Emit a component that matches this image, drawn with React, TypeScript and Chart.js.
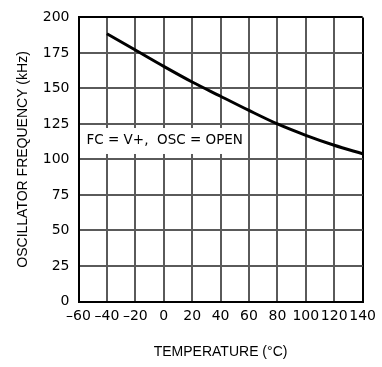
import React, { useEffect, useRef } from "react";
import { Chart, registerables } from "chart.js";

Chart.register(...registerables);

const temperatures = [-40, -20, 0, 20, 40, 60, 80, 100, 120, 140];
const frequencyKHz = [188.5, 177, 165.5, 154.5, 144.5, 134.5, 125, 117, 110, 104];
const xTitle = "TEMPERATURE (°C)";
const yTitle = "OSCILLATOR FREQUENCY (kHz)";
const annotationText = "FC = V+,  OSC = OPEN";

const TITLE_FONT = "'Liberation Sans', Arial, sans-serif";
const TICK_FONT = "'DejaVu Sans', sans-serif";

const annotationPlugin = {
  id: "condLabel",
  afterDraw(chart: any) {
    const { ctx, chartArea, scales } = chart;
    const y = scales.y.getPixelForValue(113);
    ctx.save();
    ctx.font = `13.5px ${TICK_FONT}`;
    const w = ctx.measureText(annotationText).width;
    ctx.fillStyle = "#fff";
    ctx.fillRect(chartArea.left + 4, y - 13, w + 8, 26);
    ctx.fillStyle = "#000";
    ctx.textBaseline = "middle";
    ctx.textAlign = "left";
    ctx.fillText(annotationText, chartArea.left + 8, y);
    ctx.restore();
  },
};

export default function App() {
  const ref = useRef<HTMLCanvasElement | null>(null);
  useEffect(() => {
    if (!ref.current) return;
    const chart = new Chart(ref.current, {
      type: "line",
      data: {
        datasets: [
          {
            data: temperatures.map((t, i) => ({ x: t, y: frequencyKHz[i] })),
            borderColor: "#000",
            borderWidth: 3,
            pointRadius: 0,
            cubicInterpolationMode: "monotone",
            fill: false,
          },
        ],
      },
      options: {
        animation: false,
        responsive: true,
        maintainAspectRatio: false,
        layout: { padding: { left: 0, right: 15.5, top: 14.5, bottom: 0 } },
        plugins: { legend: { display: false }, tooltip: { enabled: false } },
        scales: {
          x: {
            type: "linear",
            min: -60,
            max: 140,
            afterFit: (s: any) => {
              s.height = 65.5;
            },
            ticks: {
              stepSize: 20,
              color: "#000",
              padding: 6,
              maxRotation: 0,
              autoSkip: false,
              font: { family: TICK_FONT, size: 14 },
              callback: (v: any) => (v < 0 ? "\u2013" + Math.abs(v) : String(v)),
            },
            grid: {
              drawTicks: false,
              color: (c: any) => (c.tick && c.tick.value === 140 ? "#000" : "#5a5a5a"),
              lineWidth: 2,
            },
            border: { display: true, color: "#000", width: 2 },
            title: {
              display: true,
              text: xTitle,
              color: "#000",
              font: { family: TITLE_FONT, size: 14 },
              padding: { top: 0, bottom: 6.6 },
            },
          },
          y: {
            min: 0,
            max: 200,
            afterFit: (s: any) => {
              s.width = 78.5;
            },
            ticks: {
              stepSize: 25,
              color: "#000",
              padding: 9,
              font: { family: TICK_FONT, size: 14 },
            },
            grid: {
              drawTicks: false,
              color: (c: any) => (c.tick && c.tick.value === 200 ? "#000" : "#5a5a5a"),
              lineWidth: 2,
            },
            border: { display: true, color: "#000", width: 2 },
            title: {
              display: true,
              text: yTitle,
              color: "#000",
              font: { family: TITLE_FONT, size: 14 },
              padding: { top: 14.6, bottom: 0 },
            },
          },
        },
      },
      plugins: [annotationPlugin],
    });
    return () => chart.destroy();
  }, []);
  return (
    <div style={{ position: "absolute", left: 0, top: 0, width: 382, height: 367, background: "#fff" }}>
      <canvas ref={ref} />
    </div>
  );
}
